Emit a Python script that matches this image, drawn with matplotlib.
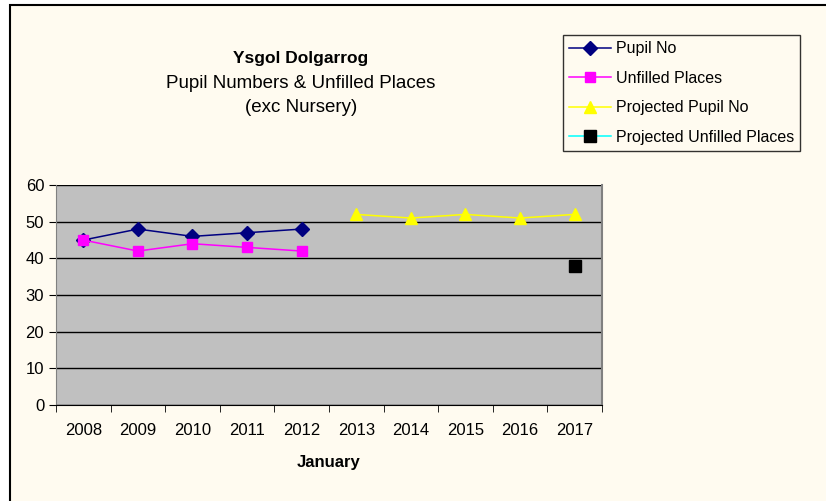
import matplotlib
matplotlib.use('Agg')
import matplotlib.pyplot as plt
from matplotlib.patches import Rectangle

plt.rcParams['font.family'] = ['Liberation Sans', 'DejaVu Sans']

# data
years = ['2008', '2009', '2010', '2011', '2012', '2013', '2014', '2015', '2016', '2017']
pupil_no = [45, 48, 46, 47, 48]
unfilled = [45, 42, 44, 43, 42]
proj_pupil = [52, 51, 52, 51, 52]
proj_unfilled = [38]

x = list(range(len(years)))

fig = plt.figure(figsize=(8.26, 5.01), dpi=100)
fig.patch.set_facecolor('white')
# chart area with border on left/top only (rest cropped off)
fig.patches.append(Rectangle((0.0121, -0.1), 1.2, 1.09, transform=fig.transFigure,
                             facecolor='#fffbf0', edgecolor='black', linewidth=1.5, zorder=-10))

ax = fig.add_axes([0.0678, 0.1916, 0.661, 0.439])
ax.set_facecolor('#c0c0c0')

ax.plot(x[0:5], pupil_no, color='#000080', marker='D', markersize=7, linewidth=1.1, label='Pupil No')
ax.plot(x[0:5], unfilled, color='#ff00ff', marker='s', markersize=6.5, linewidth=1.1, label='Unfilled Places')
ax.plot(x[5:10], proj_pupil, color='#ffff00', marker='^', markersize=8, linewidth=1.1, label='Projected Pupil No')
ax.plot(x[9:10], proj_unfilled, color='#00ffff', marker='s', markersize=8.5,
        markerfacecolor='black', markeredgecolor='black', linewidth=1.1, label='Projected Unfilled Places')

ax.set_xlim(-0.5, 9.5)
ax.set_ylim(0, 60)
ax.set_yticks(range(0, 61, 10))
ax.set_xticks(x)
ax.set_xticklabels(years)
ax.set_xticks([i - 0.5 for i in range(11)], minor=True)
ax.tick_params(axis='x', which='major', length=0, pad=13, labelsize=12)
ax.tick_params(axis='x', which='minor', length=5, color='black')
ax.tick_params(axis='y', length=5, labelsize=12, direction='out')
ax.yaxis.grid(True, color='black', linewidth=1)
ax.set_axisbelow(True)
ax.spines['top'].set_visible(False)
ax.spines['right'].set_color('#808080')
ax.spines['right'].set_linewidth(1.5)
ax.spines['left'].set_color('#808080')
ax.spines['bottom'].set_color('black')

ax.set_xlabel('January', fontsize=12, fontweight='bold', labelpad=12)

fig.text(0.364, 0.884, 'Ysgol Dolgarrog', ha='center', va='center', fontsize=12.5, fontweight='bold')
fig.text(0.364, 0.834, 'Pupil Numbers & Unfilled Places', ha='center', va='center', fontsize=13.5)
fig.text(0.364, 0.786, '(exc Nursery)', ha='center', va='center', fontsize=13.5)

leg = fig.legend(loc='upper left', bbox_to_anchor=(0.6816, 0.930), borderaxespad=0, fontsize=11.5,
                 frameon=True, fancybox=False, edgecolor='black', facecolor='#fffbf0',
                 handlelength=2.6, labelspacing=0.9, borderpad=0.4, handletextpad=0.3)
leg.get_frame().set_linewidth(1)

fig.savefig('out.png', dpi=100, facecolor=fig.get_facecolor())
